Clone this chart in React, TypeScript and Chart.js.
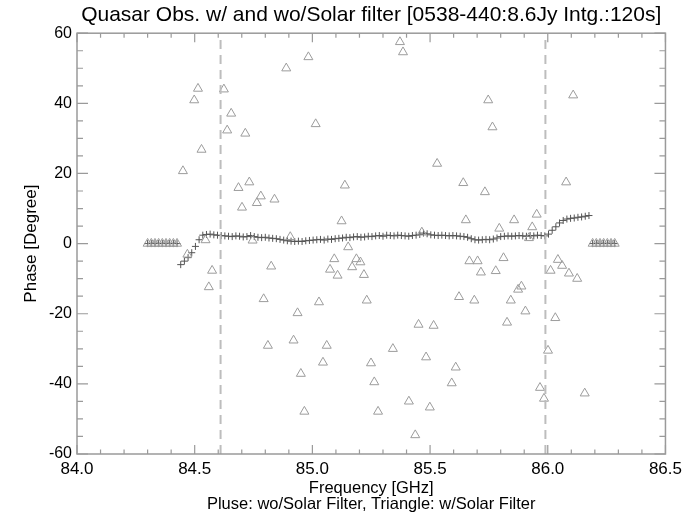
import React, { useEffect, useRef } from "react";
import { Chart, registerables } from "chart.js";

Chart.register(...registerables);

// ---------- data ----------
const TITLE = "Quasar Obs. w/ and wo/Solar filter [0538-440:8.6Jy Intg.:120s]";
const X_TITLE = "Frequency [GHz]";
const X_SUBTITLE = "Pluse: wo/Solar Filter, Triangle: w/Solar Filter";
const Y_TITLE = "Phase [Degree]";

const X_TICKS = [84.0, 84.5, 85.0, 85.5, 86.0, 86.5];
const Y_TICKS = [-60, -40, -20, 0, 20, 40, 60];
const X_MINOR_PER_MAJOR = 5;
const Y_MINOR_PER_MAJOR = 4;

// spectral channels (128 channels over 2 GHz starting at 84.3 GHz)
const CHANNEL_START = 84.3;
const CHANNEL_WIDTH = 2 / 128;
const CHANNEL_COUNT = 128;

// "Pluse" series: phase without solar filter, one value per channel
const plusPhase = [
  0, 0, 0, 0, 0, 0, 0, 0, 0,
  -6.0, -5.0, -4.0, -2.6, -0.8, 1.1, 2.4, 2.6, 2.7, 2.5,
  2.4, 2.3, 2.2, 2.1, 2.0, 2.2, 2.1, 1.9, 2.0, 2.3,
  2.0, 1.8, 1.7, 1.8, 1.6, 1.5, 1.4, 1.2, 1.0, 0.8,
  0.7, 0.6, 0.7, 0.6, 0.8, 0.9, 1.0, 1.1, 1.2, 1.0,
  1.3, 1.2, 1.4, 1.5, 1.6, 1.8, 1.7, 1.9, 2.0, 1.8,
  1.9, 2.1, 2.0, 2.2, 2.3, 2.1, 2.4, 2.3, 2.2, 2.4,
  2.3, 2.2, 2.1, 2.3, 2.4, 2.6, 3.0, 2.8, 2.5, 2.4,
  2.3, 2.4, 2.3, 2.2, 2.3, 2.2, 2.1, 2.0, 1.8, 1.4,
  1.1, 1.0, 1.1, 1.2, 1.1, 1.3, 1.6, 2.0, 2.1, 2.2,
  2.1, 2.2, 2.3, 2.2, 2.1, 2.3, 2.2, 2.4, 2.3, 2.2,
  2.7, 3.8, 4.8, 5.9, 6.6, 7.0, 7.2, 7.3, 7.5, 7.6,
  7.8, 8.0,
  0, 0, 0, 0, 0, 0, 0,
];

// flagged channels (phase 0 in the triangle series)
const flaggedChannels = [0, 1, 2, 3, 4, 5, 6, 7, 8, 121, 122, 123, 124, 125, 126, 127];
const flaggedPhase = 0;

// "Triangle" series: phase with solar filter
const triFreq = [
  84.450, 84.469, 84.498, 84.514, 84.529, 84.546, 84.560, 84.574, 84.624, 84.638,
  84.655, 84.686, 84.701, 84.715, 84.732, 84.746, 84.764, 84.781, 84.793, 84.811,
  84.825, 84.839, 84.889, 84.906, 84.920, 84.937, 84.951, 84.966, 84.983, 85.014,
  85.028, 85.045, 85.061, 85.075, 85.093, 85.107, 85.124, 85.138, 85.152, 85.169,
  85.187, 85.204, 85.219, 85.231, 85.249, 85.263, 85.279, 85.342, 85.372, 85.385,
  85.410, 85.437, 85.451, 85.465, 85.483, 85.499, 85.515, 85.530, 85.592, 85.609,
  85.623, 85.641, 85.652, 85.667, 85.688, 85.702, 85.716, 85.733, 85.747, 85.765,
  85.779, 85.794, 85.812, 85.827, 85.843, 85.857, 85.874, 85.888, 85.905, 85.920,
  85.934, 85.953, 85.967, 85.984, 86.001, 86.012, 86.032, 86.043, 86.061, 86.078,
  86.090, 86.108, 86.125, 86.157,
];
const triPhase = [
  20.7, -3.1, 40.9, 44.2, 26.8, 1.0, -12.4, -7.7, 44.0, 32.3,
  37.1, 15.9, 10.3, 31.4, 17.5, 0.9, 11.6, 13.5, -15.8, -29.1,
  -6.5, 12.6, 50.0, 1.9, -27.6, -19.8, -37.1, -47.9, 53.2, 34.1,
  -16.7, -33.9, -29.1, -7.4, -4.4, -9.1, 6.4, 16.6, -1.0, -6.7,
  -4.4, -5.3, -8.9, -16.2, -34.1, -39.5, -47.9, -30.0, 57.5, 54.6,
  -45.0, -54.6, -23.1, 3.2, -32.4, -46.7, -23.4, 22.8, -39.8, -35.3,
  -15.2, 17.3, 6.7, -5.0, -16.2, -5.0, -8.2, 14.7, 40.9, 33.2,
  -7.8, 4.3, -4.1, -22.5, -16.2, 6.7, -13.1, -12.2, -19.3, 1.6,
  4.7, 8.3, -41.1, -44.2, -30.5, -7.7, -21.2, -4.6, -6.3, 17.5,
  -8.5, 42.3, -10.0, -42.7,
];

// band edges (dashed vertical lines)
const DASH_FREQS = [84.61, 85.99];

// ---------- styles ----------
const FONT = "'Liberation Sans', Arial, Helvetica, sans-serif";
const FRAME_COLOR = "#9a9a9a";
const PLUS_COLOR = "#555555";
const TRI_COLOR = "#9c9c9c";
const DASH_COLOR = "#bdbdbd";

const frameTicksPlugin = {
  id: "frameTicks",
  afterDatasetsDraw(chart: any) {
    const { ctx, chartArea, scales } = chart;
    const { left, right, top, bottom } = chartArea;
    const xs = scales.x;
    const ys = scales.y;
    ctx.save();
    ctx.strokeStyle = FRAME_COLOR;
    ctx.lineWidth = 1.5;
    ctx.strokeRect(left, top, right - left, bottom - top);
    ctx.lineWidth = 1.2;
    ctx.beginPath();
    for (let i = 0; i < X_TICKS.length; i++) {
      const v = X_TICKS[i];
      const px = xs.getPixelForValue(v);
      const maj = 9;
      ctx.moveTo(px, bottom); ctx.lineTo(px, bottom - maj);
      ctx.moveTo(px, top); ctx.lineTo(px, top + maj);
      if (i < X_TICKS.length - 1) {
        const step = (X_TICKS[i + 1] - v) / X_MINOR_PER_MAJOR;
        for (let k = 1; k < X_MINOR_PER_MAJOR; k++) {
          const mp = xs.getPixelForValue(v + k * step);
          ctx.moveTo(mp, bottom); ctx.lineTo(mp, bottom - 4.5);
          ctx.moveTo(mp, top); ctx.lineTo(mp, top + 4.5);
        }
      }
    }
    for (let i = 0; i < Y_TICKS.length; i++) {
      const v = Y_TICKS[i];
      const py = ys.getPixelForValue(v);
      const maj = 11;
      ctx.moveTo(left, py); ctx.lineTo(left + maj, py);
      ctx.moveTo(right, py); ctx.lineTo(right - maj, py);
      if (i < Y_TICKS.length - 1) {
        const step = (Y_TICKS[i + 1] - v) / Y_MINOR_PER_MAJOR;
        for (let k = 1; k < Y_MINOR_PER_MAJOR; k++) {
          const mp = ys.getPixelForValue(v + k * step);
          ctx.moveTo(left, mp); ctx.lineTo(left + 6, mp);
          ctx.moveTo(right, mp); ctx.lineTo(right - 6, mp);
        }
      }
    }
    ctx.stroke();
    ctx.restore();
  },
};

export default function App() {
  const canvasRef = useRef<HTMLCanvasElement | null>(null);

  useEffect(() => {
    document.body.style.margin = "0";
    const canvas = canvasRef.current;
    if (!canvas) return;

    const channelFreq = Array.from({ length: CHANNEL_COUNT }, (_, i) => CHANNEL_START + i * CHANNEL_WIDTH);
    const plusData = plusPhase.map((p, i) => ({ x: channelFreq[i], y: p }));
    const triData = triFreq.map((f, i) => ({ x: f, y: triPhase[i] }));
    const flaggedData = flaggedChannels.map((c) => ({ x: channelFreq[c], y: flaggedPhase }));

    const dashSets = DASH_FREQS.map((f) => ({
      type: "line" as const,
      data: [
        { x: f, y: Y_TICKS[0] },
        { x: f, y: Y_TICKS[Y_TICKS.length - 1] },
      ],
      showLine: true,
      borderColor: DASH_COLOR,
      borderWidth: 2,
      borderDash: [9, 6],
      pointRadius: 0,
      fill: false,
    }));

    const chart = new Chart(canvas, {
      type: "scatter",
      data: {
        datasets: [
          ...dashSets,
          {
            label: "w/Solar Filter",
            data: [...flaggedData, ...triData],
            pointStyle: "triangle",
            pointRadius: 5.2,
            borderColor: TRI_COLOR,
            backgroundColor: "rgba(0,0,0,0)",
            borderWidth: 1,
          },
          {
            label: "wo/Solar Filter",
            data: plusData,
            pointStyle: "cross",
            pointRadius: 3.5,
            borderColor: PLUS_COLOR,
            backgroundColor: PLUS_COLOR,
            borderWidth: 1,
          },
        ] as any,
      },
      options: {
        responsive: false,
        animation: false,
        devicePixelRatio: 1,
        layout: { padding: { left: 0, right: 18, top: 0, bottom: 0 } },
        plugins: {
          legend: { display: false },
          tooltip: { enabled: false },
          title: {
            display: true,
            text: TITLE,
            fullSize: false,
            color: "#000",
            font: { family: FONT, size: 21, weight: "normal" },
            padding: { top: 3, bottom: 5 },
          },
        },
        scales: {
          x: {
            type: "linear",
            min: X_TICKS[0],
            max: X_TICKS[X_TICKS.length - 1],
            grid: { display: false, drawTicks: false },
            border: { display: false },
            afterBuildTicks: (s: any) => {
              s.ticks = X_TICKS.map((v) => ({ value: v }));
            },
            afterFit: (s: any) => {
              s.height = 60;
            },
            ticks: {
              callback: (v: any) => Number(v).toFixed(1),
              color: "#000",
              font: { family: FONT, size: 17 },
              padding: 5,
              maxRotation: 0,
              autoSkip: false,
            },
            title: {
              display: true,
              text: [X_TITLE, X_SUBTITLE],
              color: "#000",
              font: { family: FONT, size: 16.5, lineHeight: 0.97 },
              padding: { top: 0, bottom: 2 },
            },
          },
          y: {
            type: "linear",
            min: Y_TICKS[0],
            max: Y_TICKS[Y_TICKS.length - 1],
            grid: { display: false, drawTicks: false },
            border: { display: false },
            afterBuildTicks: (s: any) => {
              s.ticks = Y_TICKS.map((v) => ({ value: v }));
            },
            afterFit: (s: any) => {
              s.width = 77;
            },
            ticks: {
              callback: (v: any) => String(v),
              color: "#000",
              font: { family: FONT, size: 16 },
              padding: 5,
              autoSkip: false,
            },
            title: {
              display: true,
              text: Y_TITLE,
              color: "#000",
              font: { family: FONT, size: 17 },
              padding: { top: 20.8, bottom: 0 },
            },
          },
        },
      } as any,
      plugins: [frameTicksPlugin],
    });

    return () => {
      chart.destroy();
    };
  }, []);

  return (
    <div style={{ width: 687, height: 514 }}>
      <canvas ref={canvasRef} width={687} height={514} style={{ display: "block" }} />
    </div>
  );
}
